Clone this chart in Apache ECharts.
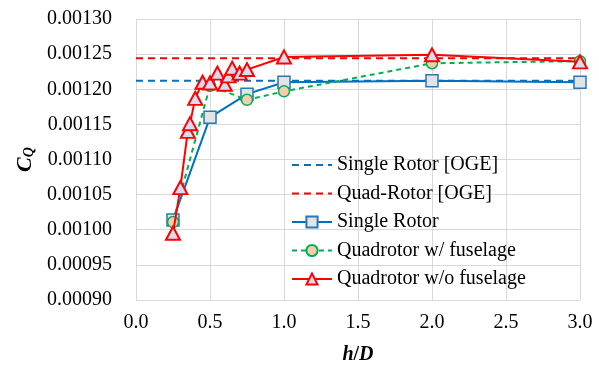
<!DOCTYPE html>
<html><head><meta charset="utf-8">
<script src="https://cdn.jsdelivr.net/npm/echarts@6/dist/echarts.min.js"></script>
<style>html,body{margin:0;padding:0;background:#fff}#c{width:599px;height:374px}</style>
</head><body><div id="c"></div>
<script>
const xTicks = [0, 0.5, 1.0, 1.5, 2.0, 2.5, 3.0];
const singleOGE = 0.001212;
const quadOGE = 0.001244;
const singleX = [0.25, 0.5, 0.75, 1, 2, 3];
const singleY = [0.001014, 0.00116, 0.001193, 0.00121, 0.001212, 0.00121];
const fusX = [0.25, 0.5, 0.75, 1, 2, 3];
const fusY = [0.001011, 0.001205, 0.001185, 0.001197, 0.001237, 0.00124];
const noFusX = [0.25, 0.3, 0.35, 0.365, 0.4, 0.45, 0.5, 0.55, 0.6, 0.625, 0.65, 0.7, 0.75, 1, 2, 3];
const noFusY = [0.000995, 0.00106, 0.00114, 0.001151, 0.001187, 0.00121, 0.001209, 0.001223, 0.001207, 0.001219, 0.00123, 0.001223, 0.001228, 0.001246, 0.001249, 0.001239];

const zip = (xs, ys) => xs.map((x, i) => [x, ys[i]]);
const F = "Liberation Serif";
const T = {fontFamily: F, fontSize: 20, color: '#000'};
const chart = echarts.init(document.getElementById('c'), null, {renderer: 'canvas'});
chart.setOption({
  animation: false,
  textStyle: {fontFamily: F, color: '#000'},
  grid: {left: 136, right: 19, top: 19, bottom: 74, containLabel: false},
  xAxis: {
    type: 'value', min: xTicks[0], max: xTicks[xTicks.length - 1], interval: 0.5,
    axisLine: {show: false}, axisTick: {show: false},
    splitLine: {show: true, lineStyle: {color: '#d9d9d9', width: 1}},
    axisLabel: {fontFamily: F, fontSize: 20, color: '#000', margin: 13, formatter: v => '{a|' + v.toFixed(1) + '}', rich: {a: T}},
    name: '{i|h}{n|/}{i|D}', nameLocation: 'middle', nameGap: 45,
    nameTextStyle: {rich: {i: {fontFamily: F, fontSize: 20, fontWeight: 'bold', fontStyle: 'italic', color: '#000'},
                           n: {fontFamily: F, fontSize: 20, fontWeight: 'bold', color: '#000'}}}
  },
  yAxis: {
    type: 'value', min: 0.0009, max: 0.0013, interval: 0.00005,
    axisLine: {show: false}, axisTick: {show: false},
    splitLine: {show: true, lineStyle: {color: '#d9d9d9', width: 1}},
    axisLabel: {fontFamily: F, fontSize: 20, color: '#000', margin: 24, formatter: v => '{a|' + v.toFixed(5) + '}', rich: {a: T}},
    name: '{c|C}{q|Q}', nameLocation: 'middle', nameGap: 100, nameRotate: 90,
    nameTextStyle: {rich: {c: {fontFamily: F, fontSize: 22, fontWeight: 'bold', fontStyle: 'italic', color: '#000'},
                           q: {fontFamily: F, fontSize: 14, fontWeight: 'bold', fontStyle: 'italic', color: '#000', verticalAlign: 'bottom', padding: [8, 0, 0, 0]}}}
  },
  legend: {
    left: 286, top: 150, orient: 'vertical', itemWidth: 40, itemHeight: 14, itemGap: 8.5,
    textStyle: {fontFamily: F, fontSize: 20, color: '#000', lineHeight: 20, rich: {a: T}},
    formatter: n => '{a|' + n + '}',
    data: [
      {name: 'Single Rotor [OGE]', itemStyle: {opacity: 0}},
      {name: 'Quad-Rotor [OGE]', itemStyle: {opacity: 0}},
      'Single Rotor', 'Quadrotor w/ fuselage', 'Quadrotor w/o fuselage']
  },
  series: [
    {name: 'Single Rotor [OGE]', type: 'line', symbol: 'none', data: [[0, singleOGE], [3, singleOGE]],
     lineStyle: {color: '#0070C0', width: 2, type: [7, 5]}, itemStyle: {color: '#0070C0'}, z: 1},
    {name: 'Quad-Rotor [OGE]', type: 'line', symbol: 'none', data: [[0, quadOGE], [3, quadOGE]],
     lineStyle: {color: '#FF0000', width: 2, type: [7, 5]}, itemStyle: {color: '#FF0000'}, z: 1},
    {name: 'Single Rotor', type: 'line', symbol: 'rect', symbolSize: 12, data: zip(singleX, singleY),
     lineStyle: {color: '#0070C0', width: 2}, itemStyle: {color: '#E3E3E3', borderColor: '#2E75B6', borderWidth: 1.5}, z: 2},
    {name: 'Quadrotor w/ fuselage', type: 'line', symbol: 'circle', symbolSize: 11, data: zip(fusX, fusY),
     lineStyle: {color: '#00B050', width: 2, type: [5, 4]}, itemStyle: {color: '#F8CBAD', borderColor: '#00B050', borderWidth: 1.5}, z: 3},
    {name: 'Quadrotor w/o fuselage', type: 'line', symbol: 'triangle', symbolSize: [14, 13], data: zip(noFusX, noFusY),
     lineStyle: {color: '#FF0000', width: 2}, itemStyle: {color: '#D9DCEE', borderColor: '#FF0000', borderWidth: 2}, z: 4}
  ]
});
</script></body></html>
